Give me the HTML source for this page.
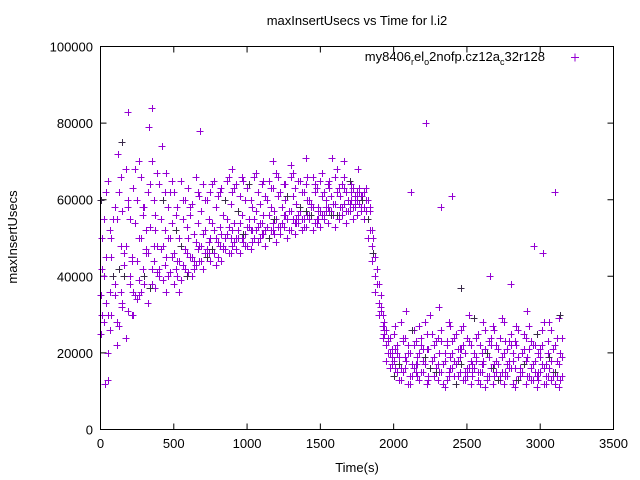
<!DOCTYPE html>
<html><head><meta charset="utf-8"><style>
body{margin:0;background:#fff;}
svg{display:block;font-family:"Liberation Sans",sans-serif;}
</style></head><body>
<svg id="chart" width="640" height="480" viewBox="0 0 640 480" xmlns="http://www.w3.org/2000/svg">
<rect x="0" y="0" width="640" height="480" fill="#fff"/>
<text x="357" y="25" font-size="13" text-anchor="middle">maxInsertUsecs vs Time for l.i2</text>
<text x="0" y="0" font-size="13" text-anchor="middle" transform="translate(17,237) rotate(-90)">maxInsertUsecs</text>
<text x="357" y="472" font-size="13" text-anchor="middle">Time(s)</text>
<g id="axes"></g>
<g id="points"></g>
<rect x="100.5" y="46.5" width="513" height="383" fill="none" stroke="#000" stroke-width="1"/>
<text x="545" y="61" font-size="13" text-anchor="end">my8406<tspan font-size="9" dy="4">r</tspan><tspan dy="-4">el</tspan><tspan font-size="9" dy="4">o</tspan><tspan dy="-4">2nofp.cz12a</tspan><tspan font-size="9" dy="4">c</tspan><tspan dy="-4">32r128</tspan></text>
<path d="M571,57.5h8M575,53.5v8" stroke="#9400d3" stroke-width="1"/>
</svg>
<script>
const times=[0,25,50,75,100,125,150,175,200,225,250,275,300,325,350,375,400,425,450,475,500,525,550,575,600,625,650,675,700,725,750,775,800,825,850,875,900,925,950,975,1000,1025,1050,1075,1100,1125,1150,1175,1200,1225,1250,1275,1300,1325,1350,1375,1400,1425,1450,1475,1500,1525,1550,1575,1600,1625,1650,1675,1700,1725,1750,1775,1800,1825,1850,1875,1900,1925,1950,1975,2000,2025,2050,2075,2100,2125,2150,2175,2200,2225,2250,2275,2300,2325,2350,2375,2400,2425,2450,2475,2500,2525,2550,2575,2600,2625,2650,2675,2700,2725,2750,2775,2800,2825,2850,2875,2900,2925,2950,2975,3000,3025,3050,3075,3100,3125,3150];
const timesB=[12,37,62,87,112,137,162,187,212,237,262,287,312,337,362,387,412,437,462,487,512,537,562,587,612,637,662,687,712,737,762,787,812,837,862,887,912,937,962,987,1012,1037,1062,1087,1112,1137,1162,1187,1212,1237,1262,1287,1312,1337,1362,1387,1412,1437,1462,1487,1512,1537,1562,1587,1612,1637,1662,1687,1712,1737,1762,1787,1812,1837,1862,1887,1912,1937,1962,1987,2012,2037,2062,2087,2112,2137,2162,2187,2212,2237,2262,2287,2312,2337,2362,2387,2412,2437,2462,2487,2512,2537,2562,2587,2612,2637,2662,2687,2712,2737,2762,2787,2812,2837,2862,2887,2912,2937,2962,2987,3012,3037,3062,3087,3112,3137];
// values in thousands of usecs
const seriesMid=[35,40,30,45,38,42,33,48,40,36,44,50,38,46,42,52,40,48,45,50,46,44,48,47,50,45,49,48,51,47,50,52,49,51,50,53,52,50,54,51,53,52,55,53,54,52,56,54,55,53,56,55,57,54,56,55,57,56,58,55,57,56,58,57,59,56,58,57,59,58,60,58,58,55,48,40,33,27,22,20,18,20,16,19,22,17,15,20,18,21,16,19,17,23,18,15,20,17,19,22,16,18,20,15,17,21,19,16,18,14,20,17,22,16,19,15,18,21,17,14,19,16,20,18,15,17,19];
const seriesHigh=[60,55,65,50,58,62,57,68,55,63,60,66,58,62,70,56,64,60,67,62,62,58,65,60,63,59,66,61,64,60,62,65,61,63,60,66,62,64,61,65,63,60,66,62,64,61,65,63,67,62,64,61,66,63,65,62,64,60,66,63,65,62,64,61,66,63,64,62,65,63,62,61,62,60,52,45,38,30,26,24,25,22,28,24,20,26,23,27,21,25,30,22,24,26,20,28,23,25,21,27,24,22,29,25,20,26,23,27,22,24,28,21,25,23,26,20,24,27,22,25,21,28,23,26,22,29,24];
const seriesLow=[25,28,20,30,35,27,32,24,38,30,34,36,40,33,38,37,42,39,36,41,38,40,39,42,41,40,43,44,42,45,44,46,45,44,47,46,48,47,46,49,48,47,50,49,51,48,50,52,49,51,53,50,52,51,54,52,53,55,52,54,53,55,54,56,53,55,56,54,57,55,56,57,55,50,44,36,30,24,18,16,14,15,13,16,12,14,17,13,15,12,16,14,13,15,11,14,16,12,15,13,14,12,16,13,15,11,14,12,15,13,12,14,16,11,13,15,12,14,13,11,15,12,14,13,12,11,14];
const seriesB1=[50,45,52,40,55,48,46,58,44,54,50,56,47,53,60,48,55,52,58,54,52,50,55,53,56,51,54,57,52,55,54,58,53,56,55,59,54,57,56,60,55,58,57,59,56,60,58,57,61,58,60,57,61,59,58,62,60,59,62,58,61,60,63,59,62,61,63,60,62,61,63,60,60,57,50,42,35,28,24,21,21,19,23,18,20,22,17,24,19,21,18,23,20,17,22,19,24,18,21,20,23,17,19,22,18,20,24,17,21,19,23,18,20,22,16,21,19,23,18,20,22,17,19,21,18,20];
const seriesB2=[30,33,26,40,28,36,43,31,45,35,39,42,46,37,44,41,47,43,40,45,42,44,43,46,45,44,47,48,46,49,47,50,48,47,51,50,49,52,50,51,53,49,52,54,51,53,52,55,53,54,56,52,55,54,57,55,56,58,54,57,56,58,57,59,56,58,59,57,60,58,59,61,57,52,46,38,31,25,20,17,16,17,15,18,14,16,19,15,17,14,18,16,15,17,13,16,18,14,17,15,16,14,18,15,17,13,16,14,17,15,14,16,18,13,15,17,14,16,15,13,17,14,16,15,14,13];
const seriesB3=[42,62,36,55,22,66,40,60,30,68,35,58,52,64,48,67,55,62,50,65,56,36,60,40,58,42,62,44,60,46,64,43,62,48,65,46,63,50,66,48,64,52,67,50,65,53,63,51,66,54,64,52,67,55,65,53,66,56,64,55,67,57,65,56,68,58,66,57,64,59,62,60,63,58,46,38,32,26,23,19,27,13,24,31,12,26,14,22,28,13,25,15,32,12,23,27,14,21,26,13,30,15,24,12,28,14,22,26,13,29,15,23,12,27,14,25,31,13,22,15,26,12,28,14,24,30];
const outX=[190,350,330,680,150,2220,2400,2320,2120,3100,2960,3020,2800,2660,1180,1400,1580,50,30,1660,1760,2460,120,260,420,900,1300];
const outY=[83,84,79,78,75,80,61,58,62,62,48,46,38,40,70,71,71,13,12,70,68,37,72,70,74,68,69];
const xTicks=[0,500,1000,1500,2000,2500,3000,3500];
const yTicks=[0,20000,40000,60000,80000,100000];

const X0=100.5,X1=613.5,Y0=429.5,Y1=46.5;
const xs=v=>X0+(v/3500)*(X1-X0);
const ys=v=>Y0-(v/100000)*(Y0-Y1);
const NS="http://www.w3.org/2000/svg";
const axes=document.getElementById('axes');
const pts=document.getElementById('points');

xTicks.forEach(t=>{
  const x=xs(t);
  const p=document.createElementNS(NS,'path');
  p.setAttribute('d',`M${x},${Y0}v-6M${x},${Y1}v6`);
  p.setAttribute('stroke','#000');
  
  
  axes.appendChild(p);
  const tx=document.createElementNS(NS,'text');
  tx.setAttribute('x',x);tx.setAttribute('y',448);
  tx.setAttribute('font-size','13');tx.setAttribute('text-anchor','middle');
  
  
  tx.textContent=t;
  axes.appendChild(tx);
});
yTicks.forEach(t=>{
  const y=ys(t);
  const p=document.createElementNS(NS,'path');
  p.setAttribute('d',`M${X0},${y}h6M${X1},${y}h-6`);
  p.setAttribute('stroke','#000');
  
  
  axes.appendChild(p);
  const tx=document.createElementNS(NS,'text');
  tx.setAttribute('x',93);tx.setAttribute('y',y+5);
  tx.setAttribute('font-size','13');tx.setAttribute('text-anchor','end');
  
  
  tx.textContent=t;
  axes.appendChild(tx);
});

let d='',dk='';
function plus(t,v,i){
  const x=Math.round(xs(t)),y=Math.round(ys(v*1000));
  const s=`M${x-3.5},${y+0.5}h7M${x+0.5},${y-3}v7`;
  if(i%17===5) dk+=s; else d+=s;
}
[seriesMid,seriesHigh,seriesLow].forEach((arr,k)=>arr.forEach((v,i)=>plus(times[i],v,i+k*5)));
[seriesB1,seriesB2,seriesB3].forEach((arr,k)=>arr.forEach((v,i)=>plus(timesB[i],v,i+k*7+2)));
outX.forEach((t,i)=>plus(t,outY[i],i+1));
const pp=document.createElementNS(NS,'path');
pp.setAttribute('d',d);pp.setAttribute('stroke','#9400d3');pp.setAttribute('fill','none');


pts.appendChild(pp);
const pk=document.createElementNS(NS,'path');
pk.setAttribute('d',dk);pk.setAttribute('stroke','#3a2a4a');pk.setAttribute('fill','none');


pts.appendChild(pk);
</script>
</body></html>
